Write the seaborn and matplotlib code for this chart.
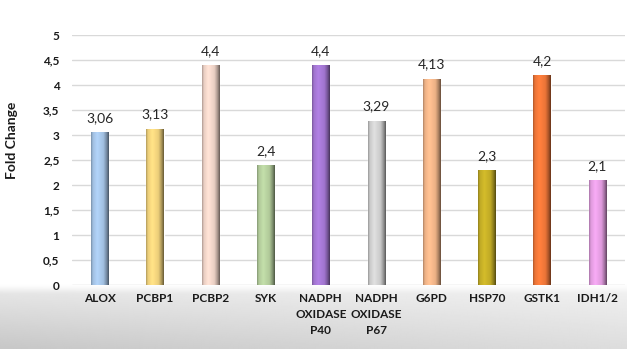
import numpy as np
import pandas as pd
import matplotlib
matplotlib.use("Agg")
import matplotlib.pyplot as plt
import matplotlib.colors as mcolors
import seaborn as sns

genes = ["ALOX", "PCBP1", "PCBP2", "SYK", "NADPH\nOXIDASE\nP40", "NADPH\nOXIDASE\nP67",
         "G6PD", "HSP70", "GSTK1", "IDH1/2"]
fold_change = [3.06, 3.13, 4.4, 2.4, 4.4, 3.29, 4.13, 2.3, 4.2, 2.1]
bar_colors = ["#a9c9ec", "#f7d880", "#f4d8cc", "#b9d3a1", "#a87ad8", "#d4d4d4",
              "#f7b98c", "#c9b228", "#f67a3a", "#eaa2e8"]
y_ticks = [0, 0.5, 1, 1.5, 2, 2.5, 3, 3.5, 4, 4.5, 5]

df = pd.DataFrame({"gene": genes, "fc": fold_change})

sns.set_theme(style="white")
plt.rcParams["font.family"] = ["Lato", "DejaVu Sans"]

W, H = 627, 349
fig = plt.figure(figsize=(W / 100, H / 100), dpi=100)
fig.patch.set_facecolor("white")

# grey shaded band along the bottom of the slide, fading in from white
band_h = 66
bg = fig.add_axes([0, 0, 1, band_h / H])
rows = np.linspace(0, 1, band_h)[:, None]
cols = np.linspace(0, 1, 300)[None, :]
fade = np.clip(rows / 0.18, 0, 1)
fade = fade * fade * (3 - 2 * fade)
shade = 1.0 - fade * (0.07 + rows * 0.12) * (1.15 - 0.45 * cols)
bg.imshow(np.clip(shade, 0, 1), cmap="gray", vmin=0, vmax=1, aspect="auto",
          extent=[0, 1, 0, 1], origin="upper", interpolation="bilinear")
bg.set_axis_off()

ax = fig.add_axes([72 / W, 64 / H, 553 / W, 250 / H])
ax.patch.set_alpha(0)

sns.barplot(data=df, x="gene", y="fc", hue="gene", palette=bar_colors,
            legend=False, width=0.31, ax=ax, zorder=3, saturation=1)

# cylinder-style shading across each bar
xs = np.linspace(0, 1, 64)
profile = np.interp(xs, [0, 0.1, 0.35, 0.7, 0.88, 1.0], [0.72, 0.95, 1.06, 0.95, 0.68, 0.42])
for patch, col in zip(ax.patches, bar_colors):
    rgb = np.array(mcolors.to_rgb(col))
    img = np.clip(rgb[None, None, :] * profile[None, :, None], 0, 1)
    x0, y0 = patch.get_x(), patch.get_y()
    w, h = patch.get_width(), patch.get_height()
    im = ax.imshow(img, extent=[x0, x0 + w, y0, y0 + h], aspect="auto", zorder=4,
                   interpolation="bilinear")
    im.set_clip_path(patch)

for i, v in enumerate(fold_change):
    ax.annotate(f"{v:g}".replace(".", ","), (i, v), xytext=(0, 6),
                textcoords="offset points", ha="center", va="bottom",
                fontsize=10, color="#262626")

ax.set_xlim(-0.5, len(genes) - 0.5)
ax.set_ylim(0, 5)
ax.set_yticks(y_ticks)
ax.set_yticklabels([f"{t:g}".replace(".", ",") for t in y_ticks],
                   fontsize=8.5, fontweight="bold", color="#1a1a1a")
ax.set_xticks(range(len(genes)))
ax.set_xticklabels(genes, fontsize=8.5, fontweight="bold", color="#1a1a1a",
                   linespacing=1.55)
ax.tick_params(axis="y", length=0, pad=9)
ax.tick_params(axis="x", length=0, pad=6)
ax.yaxis.grid(True, color="#d9d9d9", linewidth=1.0, zorder=0)
ax.set_axisbelow(True)
for s in ax.spines.values():
    s.set_visible(False)
ax.set_xlabel("")
ax.set_ylabel("")
fig.text(12 / W, 1 - 140 / H, "Fold Change", rotation=90, ha="center", va="center",
         fontsize=10, fontweight="bold", color="#1a1a1a")

fig.savefig("out.png", dpi=100)
